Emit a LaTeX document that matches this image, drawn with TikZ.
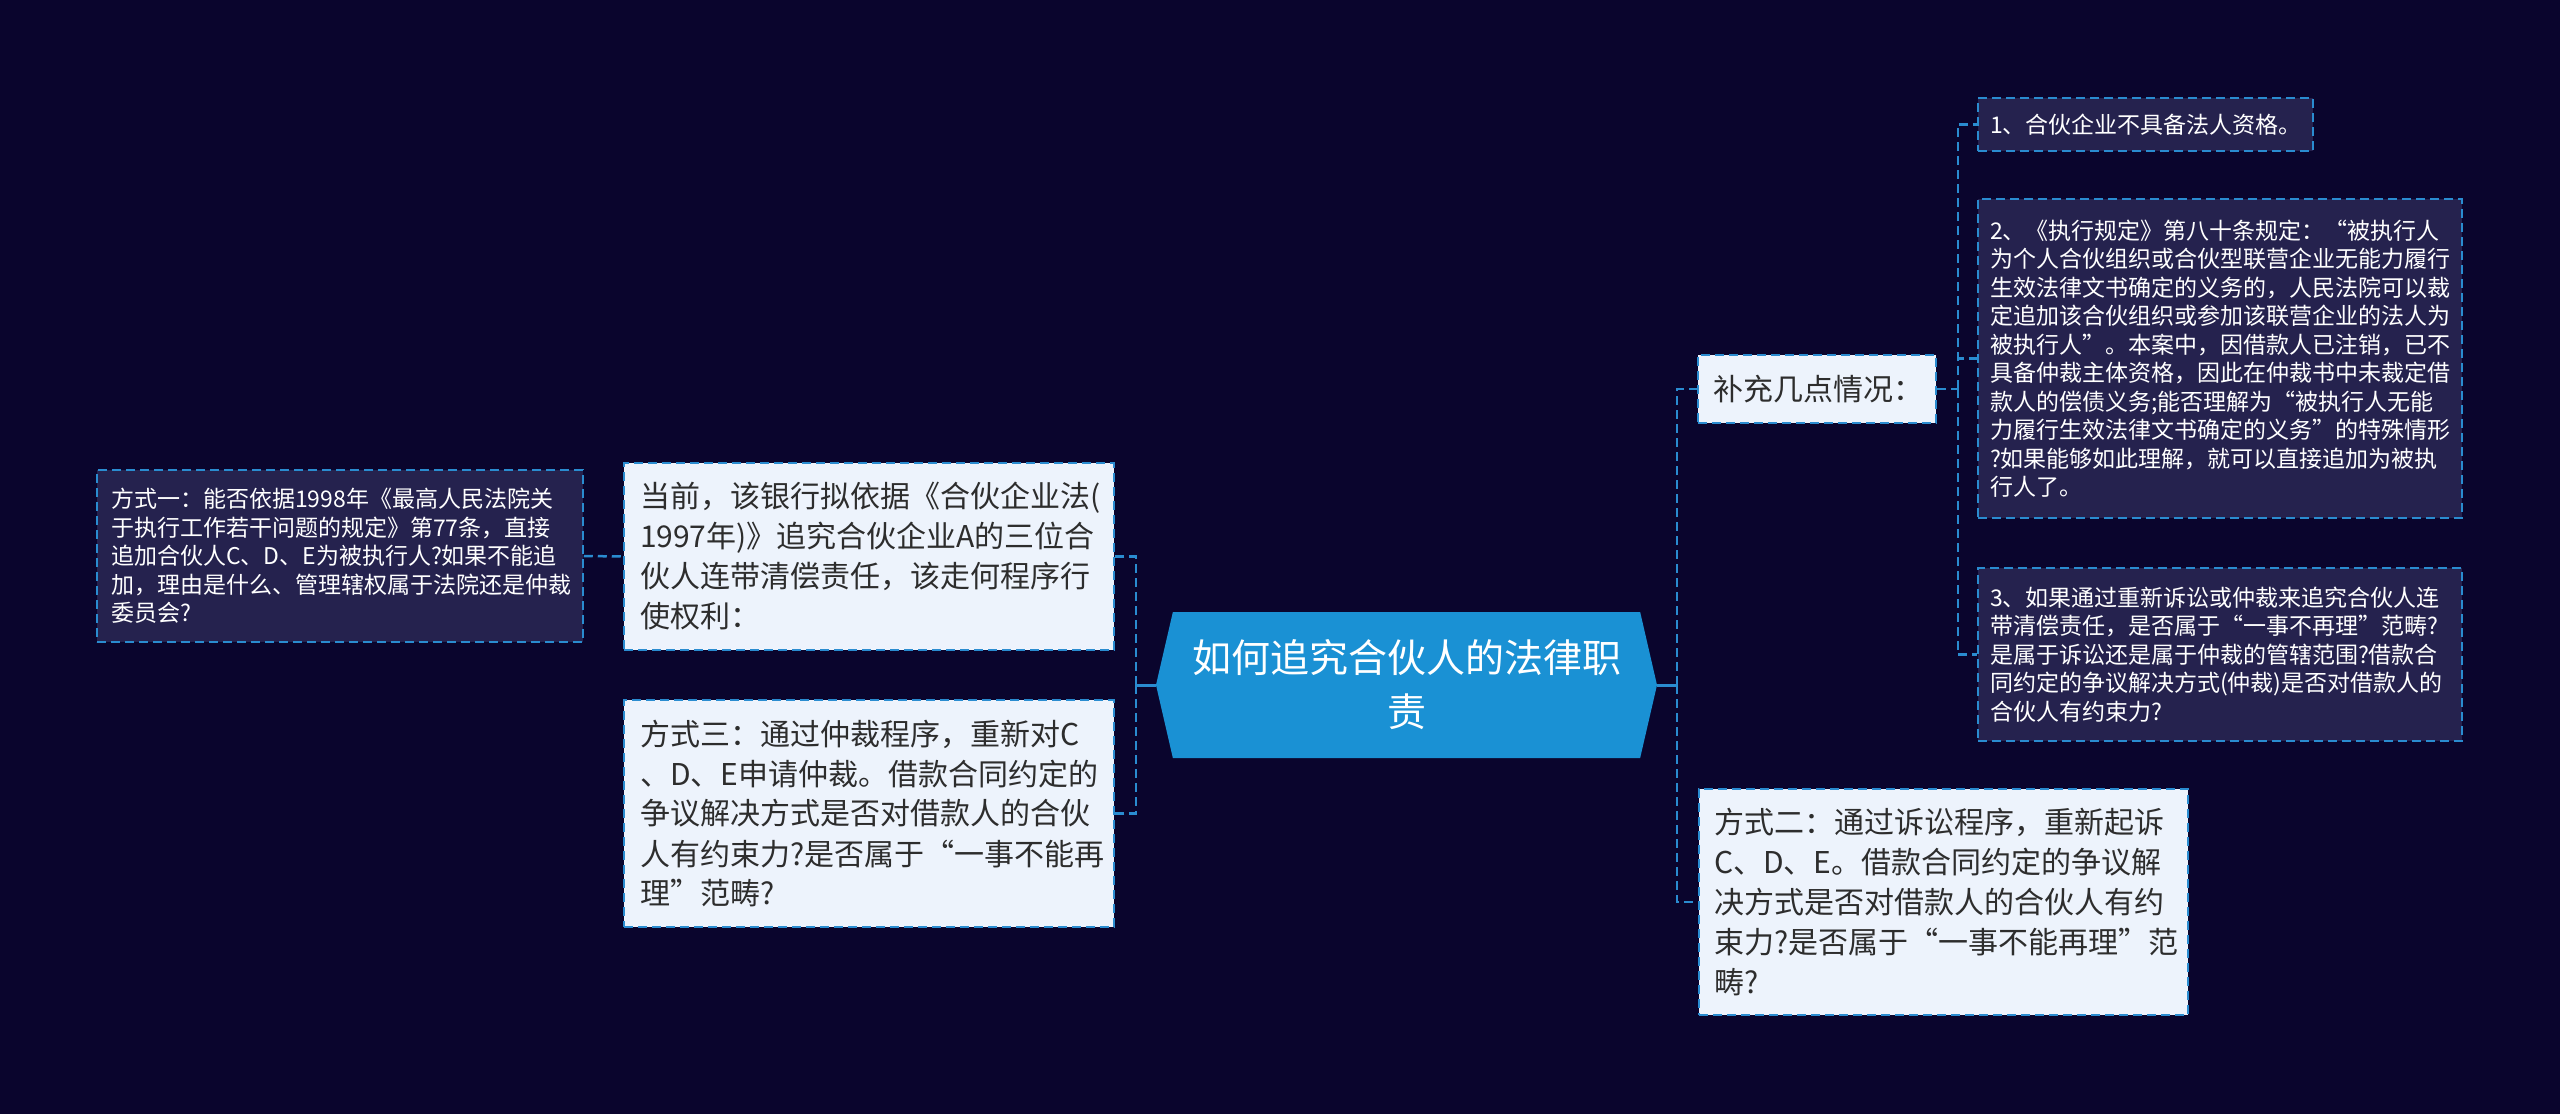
\documentclass[tikz,border=0pt]{standalone}
\usepackage{fontspec}
\setmainfont{Noto Sans CJK SC}
\usetikzlibrary{shapes.symbols}

\definecolor{bgnavy}{RGB}{10,5,45}
\definecolor{rootblue}{RGB}{26,145,212}
\definecolor{linkblue}{RGB}{42,140,208}
\definecolor{lightfill}{RGB}{237,243,252}
\definecolor{darkfill}{RGB}{37,34,78}
\definecolor{inktext}{RGB}{45,45,45}

\tikzset{
	topic/.style={signal, signal to=west and east, signal pointer angle=154, fill=rootblue, text=white, align=center, font=\fontsize{39}{54}\selectfont, minimum width=501pt, minimum height=146pt, inner sep=0pt},
	lightbox/.style={draw=linkblue, dash pattern=on 9pt off 5pt, line width=1.5pt, fill=lightfill, text=inktext, align=left, font=\fontsize{30}{40}\selectfont, inner xsep=16pt, inner ysep=0pt},
	darkbox/.style={lightbox, fill=darkfill, text=white, font=\fontsize{23}{28.5}\selectfont, inner xsep=12pt},
	link/.style={draw=linkblue, line width=2.5pt, dash pattern=on 9pt off 5pt},
	stem/.style={draw=linkblue, line width=3pt},
}

\begin{document}
\begin{tikzpicture}[x=1pt, y=-1pt]
				\useasboundingbox (0,0) rectangle (2560,1114);
				\fill[bgnavy] (0,0) rectangle (2560,1114);

				% Root
				\node[topic] (root) at (1406.5,685) {如何追究合伙人的法律职\\责};

				% Left side
				\node[lightbox, text width=458pt, minimum height=187pt] (now) at (869,556.5) {当前，该银行拟依据《合伙企业法(\\1997年)》追究合伙企业A的三位合\\伙人连带清偿责任，该走何程序行\\使权利：};
				\node[lightbox, text width=458pt, minimum height=227pt] (san) at (869,813.5) {方式三：通过仲裁程序，重新对C\\、D、E申请仲裁。借款合同约定的\\争议解决方式是否对借款人的合伙\\人有约束力?是否属于“一事不能再\\理”范畴?};
				\node[darkbox, inner xsep=14pt, text width=458pt, minimum height=172pt] (yi) at (340,556) {方式一：能否依据1998年《最高人民法院关\\于执行工作若干问题的规定》第77条，直接\\追加合伙人C、D、E为被执行人?如果不能追\\加，理由是什么、管理辖权属于法院还是仲裁\\委员会?};

				% Right side
				\node[lightbox, inner xsep=15pt, text width=208pt, minimum height=68pt] (buchong) at (1817,389) {补充几点情况：};
				\node[lightbox, inner xsep=15pt, text width=459pt, minimum height=226pt] (er) at (1943.5,902) {方式二：通过诉讼程序，重新起诉\\C、D、E。借款合同约定的争议解\\决方式是否对借款人的合伙人有约\\束力?是否属于“一事不能再理”范\\畴?};

				% Supplementary points
				\node[darkbox, text width=311pt, minimum height=53pt] (p1) at (2145.5,124.5) {1、合伙企业不具备法人资格。};
				\node[darkbox, text width=460pt, minimum height=319pt] (p2) at (2220,358.5) {2、《执行规定》第八十条规定：“被执行人\\为个人合伙组织或合伙型联营企业无能力履行\\生效法律文书确定的义务的，人民法院可以裁\\定追加该合伙组织或参加该联营企业的法人为\\被执行人”。本案中，因借款人已注销，已不\\具备仲裁主体资格，因此在仲裁书中未裁定借\\款人的偿债义务;能否理解为“被执行人无能\\力履行生效法律文书确定的义务”的特殊情形\\?如果能够如此理解，就可以直接追加为被执\\行人了。};
				\node[darkbox, text width=460pt, minimum height=173pt] (p3) at (2220,654.5) {3、如果通过重新诉讼或仲裁来追究合伙人连\\带清偿责任，是否属于“一事不再理”范畴?\\是属于诉讼还是属于仲裁的管辖范围?借款合\\同约定的争议解决方式(仲裁)是否对借款人的\\合伙人有约束力?};

				% Connectors
				\coordinate (lfork) at ([xshift=-20pt]root.west);
				\coordinate (rfork) at ([xshift=20pt]root.east);
				\coordinate (sfork) at ([xshift=21pt]buchong.east);
				\draw[stem] (root.west) -- (lfork);
				\draw[link] (lfork) |- (now.east);
				\draw[link] (lfork) |- (san.east);
				\draw[link] (yi.east) -- (now.west);
				\draw[stem] (root.east) -- (rfork);
				\draw[link] (rfork) |- (buchong.west);
				\draw[link] (rfork) |- (er.west);
				\draw[link] (buchong.east) -- (sfork);
				\draw[link] (sfork) |- (p1.west);
				\draw[link] (sfork) |- (p2.west);
				\draw[link] (sfork) |- (p3.west);
\end{tikzpicture}
\end{document}
